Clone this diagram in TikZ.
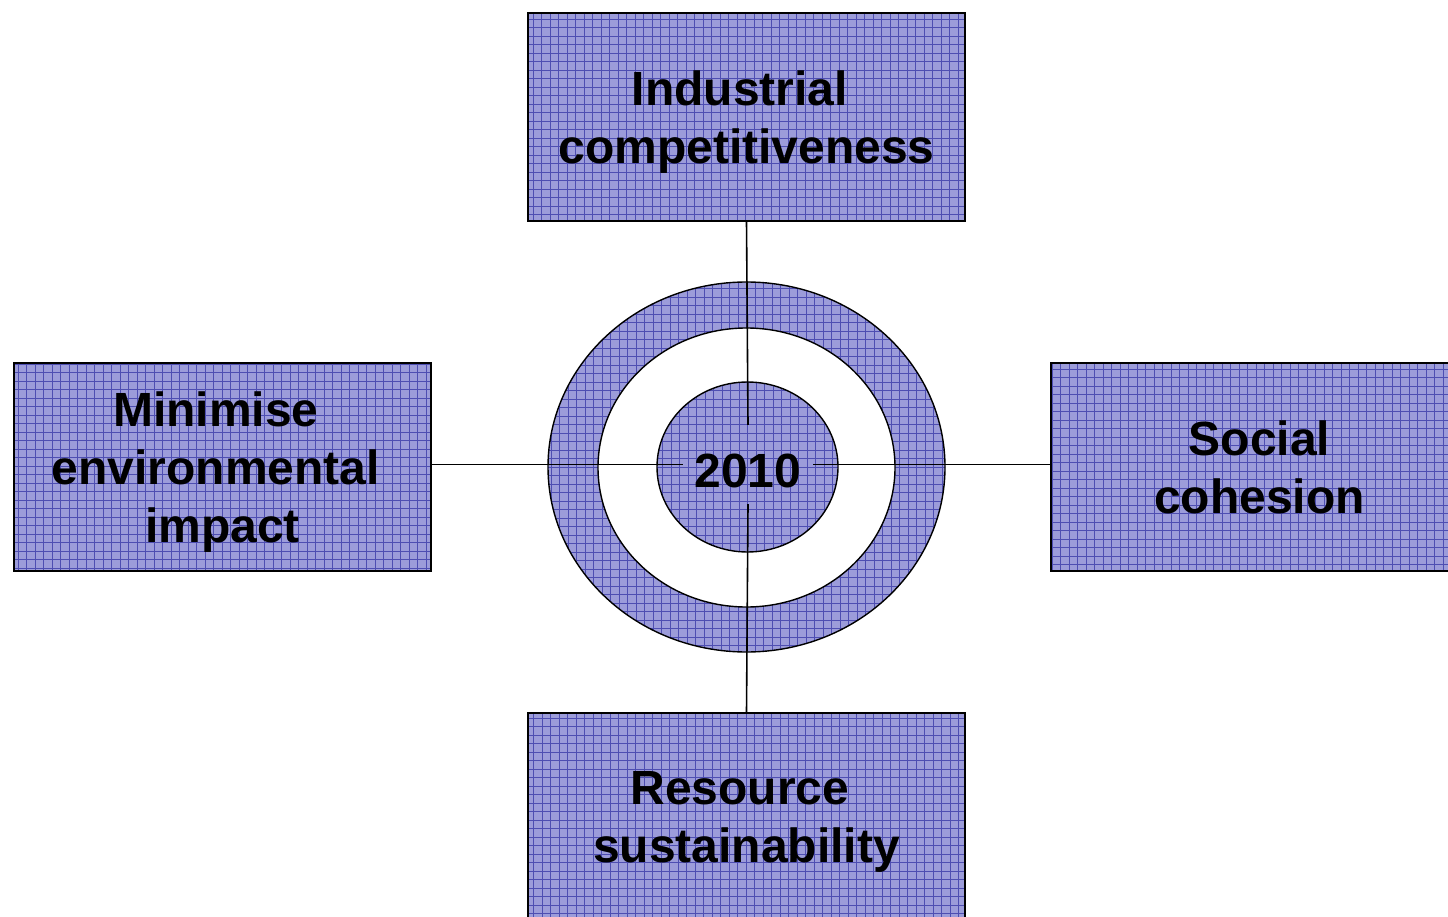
\documentclass[tikz,border=0pt]{standalone}
\usepackage{fontspec}
\setmainfont{Liberation Sans}
\usetikzlibrary{shapes.geometric}
\definecolor{boxfill}{RGB}{156,156,218}
\definecolor{gridcol}{RGB}{78,78,178}
\newcommand{\trsp}{\kern0.278em}
\tikzset{
  gridfill/.style={fill=boxfill,
    path picture={\draw[gridcol,line width=0.5pt,step=8.5pt]
      ([xshift=-8pt,yshift=-8pt]path picture bounding box.south west) grid
      ([xshift=8pt,yshift=8pt]path picture bounding box.north east);}},
  goalbox/.style={draw=black,line width=1.4pt,gridfill,rectangle,
    minimum width=437pt,minimum height=208pt,align=center,
    font=\bfseries\fontsize{48}{58}\selectfont,text=black,inner sep=0pt,
    text depth=0pt},
  ring/.style={draw=black,line width=1.4pt,ellipse,inner sep=0pt},
  conn/.style={draw=black,line width=1.6pt},
}
\begin{document}
\begin{tikzpicture}[x=1pt,y=-1pt]
\useasboundingbox (0,0) rectangle (1448,917);
\node[ring,gridfill,minimum width=397pt,minimum height=370pt] (outer) at (746.5,467) {};
\node[ring,fill=white,minimum width=297pt,minimum height=279pt] (middle) at (746.5,467.5) {};
\node[ring,gridfill,minimum width=181pt,minimum height=170pt] (inner) at (747.5,467) {};
\node[goalbox] (top) at (746.5,117) {Industrial\trsp\\competitiveness};
\node[goalbox,minimum width=417pt] (left) at (222.5,467) {Minimise\trsp\\environmental\trsp\\impact};
\node[goalbox,minimum width=417pt] (right) at (1259.5,467) {Social\\cohesion};
\node[goalbox] (bottom) at (746.5,817) {Resource\trsp\\sustainability};
\node[font=\bfseries\fontsize{48}{58}\selectfont,minimum width=130pt,minimum height=79pt,
  inner sep=0pt,text height=45pt,text depth=0pt] (year) at (748,464.5) {2010};
\draw[conn] (top.south) -- (year.north);
\draw[conn] (year.south) -- (bottom.north);
\draw[conn] (year.west -| left.east) -- (year.west);
\draw[conn] (year.east) -- (year.east -| right.west);
\end{tikzpicture}
\end{document}
